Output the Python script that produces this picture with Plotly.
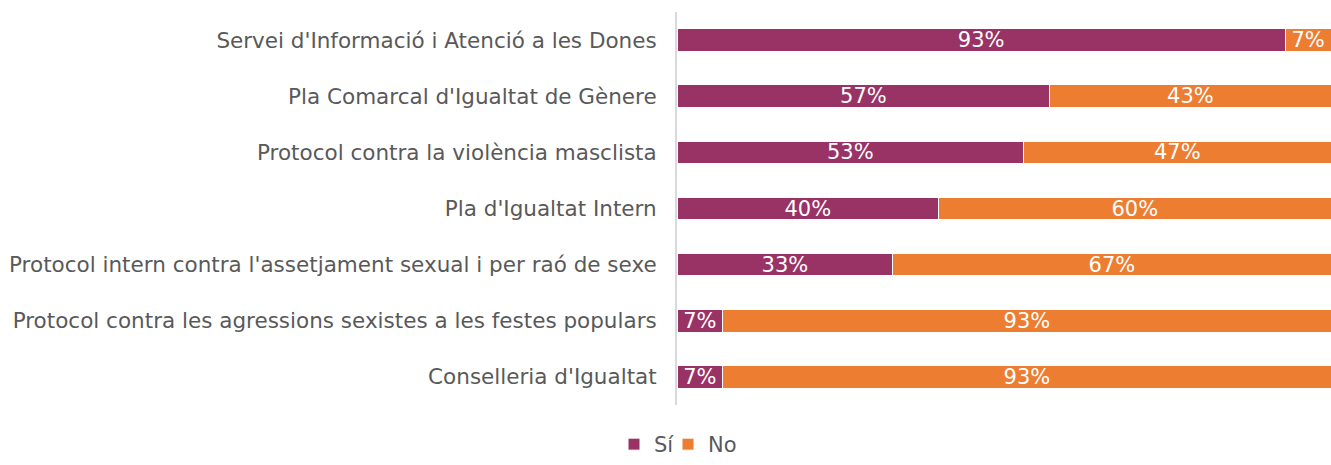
import plotly.graph_objects as go

categories = [
    "Servei d'Informació i Atenció a les Dones",
    "Pla Comarcal d'Igualtat de Gènere",
    "Protocol contra la violència masclista",
    "Pla d'Igualtat Intern",
    "Protocol intern contra l'assetjament sexual i per raó de sexe",
    "Protocol contra les agressions sexistes a les festes populars",
    "Conselleria d'Igualtat",
]
si_values = [93, 57, 53, 40, 33, 7, 7]
no_values = [7, 43, 47, 60, 67, 93, 93]

PURPLE = "#993366"
ORANGE = "#ED7D31"
FONT = "DejaVu Sans"
W, H = 1331, 465

fig = go.Figure()
for name, vals, col, lg in [("Sí", si_values, PURPLE, "legend"), ("No", no_values, ORANGE, "legend2")]:
    fig.add_trace(go.Bar(
        y=categories, x=vals, name=name, orientation="h", legend=lg,
        marker=dict(color=col, line=dict(color="white", width=1)),
        text=[f"{v}%" for v in vals], textposition="inside",
        insidetextanchor="middle", constraintext="none",
        textfont=dict(family=FONT, size=21, color="white"),
        hoverinfo="skip",
    ))

leg_common = dict(
    orientation="h", xanchor="left", xref="container",
    y=0.0, yanchor="bottom", yref="container",
    font=dict(family=FONT, size=21, color="#595959"),
    itemwidth=30, bgcolor="rgba(0,0,0,0)",
)

fig.update_layout(
    barmode="stack",
    bargap=0.6,
    width=W, height=H,
    autosize=False,
    margin=dict(l=677, r=0, t=12, b=60),
    plot_bgcolor="white", paper_bgcolor="white",
    font=dict(family=FONT, size=21, color="#595959"),
    xaxis=dict(range=[0, 100], visible=False, fixedrange=True),
    yaxis=dict(
        autorange="reversed", showgrid=False, zeroline=False,
        showline=True, linecolor="#D9D9D9", linewidth=2,
        ticks="", ticklabelstandoff=14,
        tickfont=dict(family=FONT, size=21.5, color="#595959"),
    ),
    legend=dict(x=(654 - 40) / W, **leg_common),
    legend2=dict(x=(708 - 40) / W, **leg_common),
    showlegend=True,
)

fig.write_html(
    "out.html",
    config={"displayModeBar": False},
    post_script="document.body.style.margin='0';document.body.style.overflow='hidden';",
)
